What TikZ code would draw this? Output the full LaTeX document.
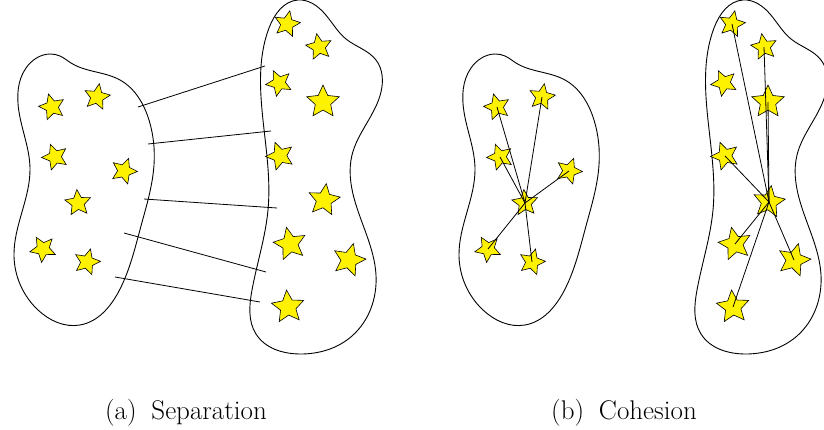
\documentclass[tikz,border=0pt]{standalone}
\usetikzlibrary{shapes.geometric,hobby}
\newcommand\blobL{(50,54) .. (60,56) .. (71,63) .. (120,80) .. (149,120) .. (154,165) .. (141,226) .. (119,291) .. (80,325) .. (38,310) .. (14,256) .. (30,168) .. (19,112) .. (26,68)}
\newcommand\blobR{(298,0) .. (325,14) .. (346,39) .. (376,60) .. (381,92) .. (352,155) .. (354,198) .. (376,275) .. (352,336) .. (300,354) .. (256,334) .. (252,290) .. (268,210) .. (262,110) .. (269,28)}
\tikzset{
  blob/.style={draw=black, line width=0.9pt, use Hobby shortcut, closed=true},
  starnode/.style={star, star points=5, star point ratio=2.1, fill=yellow, draw=black, line width=0.6pt, inner sep=0pt, minimum size=#1},
  starnode/.default=27pt,
  link/.style={draw=black, line width=0.8pt},
  captext/.style={font=\fontsize{27}{32}\selectfont, anchor=base, inner sep=0pt},
}
\begin{document}
\begin{tikzpicture}[x=1pt, y=-1pt]
\useasboundingbox (0,0) rectangle (824,430);
% ---------- (a) Separation ----------
\draw[blob] \blobL;
\draw[blob] \blobR;
\node[starnode, rotate=15]  (a1) at (52,107) {};
\node[starnode, rotate=-10] (a2) at (97,97) {};
\node[starnode, rotate=20]  (a3) at (55,157) {};
\node[starnode, rotate=-20] (a4) at (124,171) {};
\node[starnode, rotate=5]   (a5) at (78,203) {};
\node[starnode, rotate=30]  (a6) at (43,249) {};
\node[starnode, rotate=-15] (a7) at (87,262) {};
\node[starnode, rotate=-12] (b1) at (287,24) {};
\node[starnode, rotate=10]  (b2) at (319,47) {};
\node[starnode, rotate=25]  (b3) at (279,83) {};
\node[starnode=34pt, rotate=0]   (b4) at (323,102) {};
\node[starnode=29pt, rotate=20]  (b5) at (280,156) {};
\node[starnode=33pt, rotate=-8]  (b6) at (324,200) {};
\node[starnode=34pt, rotate=12]  (b7) at (290,244) {};
\node[starnode=34pt, rotate=-15] (b8) at (349,260) {};
\node[starnode=34pt, rotate=5]   (b9) at (288,307) {};
\coordinate (l1) at (138,107); \coordinate (r1) at (265,66);
\coordinate (l2) at (148,144); \coordinate (r2) at (271,131);
\coordinate (l3) at (144,199); \coordinate (r3) at (277,208);
\coordinate (l4) at (124,233); \coordinate (r4) at (266,272);
\coordinate (l5) at (115,277); \coordinate (r5) at (260,302);
\draw[link] (l1) -- (r1);
\draw[link] (l2) -- (r2);
\draw[link] (l3) -- (r3);
\draw[link] (l4) -- (r4);
\draw[link] (l5) -- (r5);
\node[captext] (capA) at (186,419) {(a)\hspace{0.55em}Separation};
% ---------- (b) Cohesion ----------
\begin{scope}[xshift=445pt]
\draw[blob] \blobL;
\draw[blob] \blobR;
\node[starnode, rotate=15]  (c1) at (52,107) {};
\node[starnode, rotate=-10] (c2) at (97,97) {};
\node[starnode, rotate=20]  (c3) at (55,157) {};
\node[starnode, rotate=-20] (c4) at (124,171) {};
\node[starnode, rotate=5]   (ch) at (80,203) {};
\node[starnode, rotate=30]  (c6) at (43,249) {};
\node[starnode, rotate=-15] (c7) at (87,262) {};
\draw[link] (ch.center) -- (c1.center);
\draw[link] (ch.center) -- (c2.center);
\draw[link] (ch.center) -- (c3.center);
\draw[link] (ch.center) -- (c4.center);
\draw[link] (ch.center) -- (c6.center);
\draw[link] (ch.center) -- (c7.center);
\node[starnode, rotate=-12] (d1) at (287,24) {};
\node[starnode, rotate=10]  (d2) at (319,47) {};
\node[starnode, rotate=25]  (d3) at (279,83) {};
\node[starnode=34pt, rotate=0]   (d4) at (323,102) {};
\node[starnode=29pt, rotate=20]  (d5) at (280,156) {};
\node[starnode=33pt, rotate=-8]  (dh) at (324,202) {};
\node[starnode=34pt, rotate=12]  (d7) at (290,244) {};
\node[starnode=34pt, rotate=-15] (d8) at (349,260) {};
\node[starnode=34pt, rotate=5]   (d9) at (288,307) {};
\draw[link] (dh.center) -- (d1.center);
\draw[link] (dh.center) -- (d2.center);
\draw[link] (dh.center) -- (d4.center);
\draw[link] (dh.center) -- (d5.center);
\draw[link] (dh.center) -- (d7.center);
\draw[link] (dh.center) -- (d8.center);
\draw[link] (dh.center) -- (d9.center);
\end{scope}
\node[captext] (capB) at (624,419) {(b)\hspace{0.55em}Cohesion};
\end{tikzpicture}
\end{document}
